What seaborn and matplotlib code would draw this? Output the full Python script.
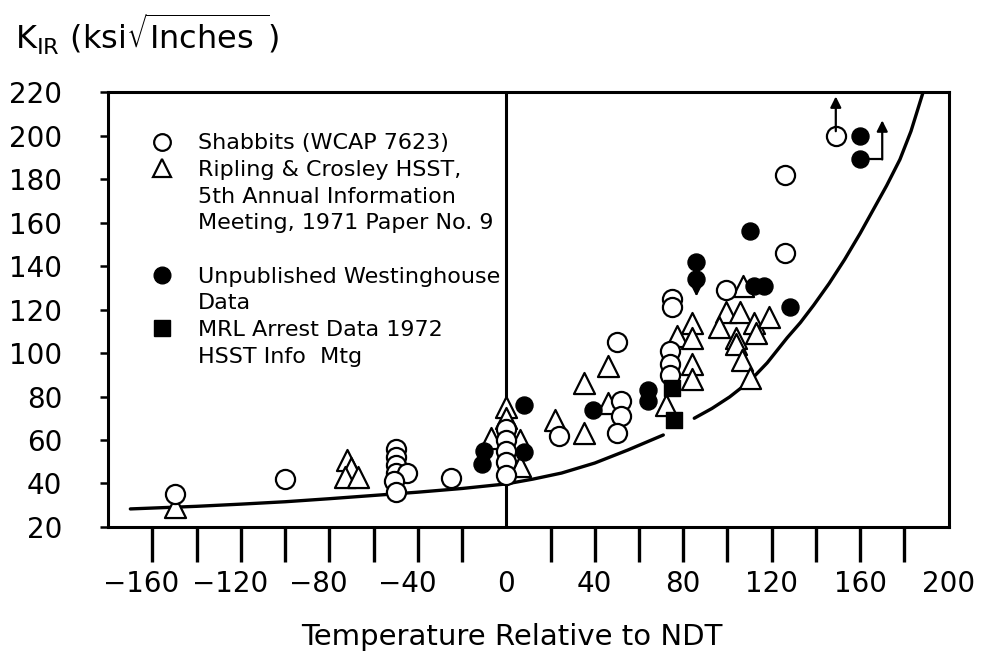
import matplotlib
matplotlib.use("Agg")
import matplotlib.pyplot as plt
import seaborn as sns
import pandas as pd
from matplotlib.lines import Line2D
from matplotlib.transforms import ScaledTranslation

# ---------------- data ----------------
shab_x = [-150, -100, -50, -50, -50, -50, -45, -51, -50, -25, 0, 0, 0, 0, 0, 24, 50, 52, 52, 50,
          75, 75, 74, 74, 74, 99.5, 126, 126, 149]
shab_y = [35, 42, 56, 52, 48.5, 45, 45, 41, 36, 42.5, 65, 60, 55, 50, 44, 62, 105, 78, 71, 63,
          125, 121, 101, 95, 90, 129, 146, 182, 200]

rip_x = [-150, -72, -70, -73, -67, 0, 0, -7, 6, 6, 22, 35, 35, 46, 46, 84, 77, 84, 84, 84, 72,
         99.5, 105.5, 96, 112, 119, 113, 104, 104, 106.5, 110, 107]
rip_y = [29, 51, 47, 43, 43, 75, 70, 61, 60, 48, 69, 86, 63, 94, 77, 114, 108, 107, 95, 88, 76,
         119, 119, 112, 114, 116.5, 109, 107, 104, 97, 88.5, 131]

west_x = [-10, -11, 8, 8, 39, 64, 64, 86, 86, 110, 112, 116.5, 128.5, 160, 160]
west_y = [55, 49, 54.5, 76, 74, 83, 78, 142, 134, 156, 131, 131, 121, 200, 189]

mrl_x = [75, 76]
mrl_y = [84, 69]

# reference curve, read in two pieces (gap near the MRL points)
curve1_x = [-170, -160, -140, -120, -100, -80, -60, -40, -20, 0, 12, 25, 40, 55, 71]
curve1_y = [28.3, 28.7, 29.5, 30.5, 31.6, 33, 34.5, 36, 37.7, 39.8, 42, 44.8, 49.4, 55.4, 62.3]
curve2_x = [85, 93, 101, 110, 118, 127, 133, 139, 146, 153, 160, 166, 172, 178, 183, 188.5]
curve2_y = [70, 74.5, 79.8, 87, 95.5, 107, 114, 122, 132, 143, 155, 166, 177, 189, 202, 220]

# arrows (lower-bound indications)
arrow_up = [(149, 200, 218)]                 # x, y_start, y_tip
arrow_bent = [(160, 189, 170, 207)]          # x0, y0, x_corner, y_tip
arrow_down = [(86, 134, 126)]

legend_lines = ["Shabbits (WCAP 7623)", "Ripling & Crosley HSST,", "5th Annual Information",
                "Meeting, 1971 Paper No. 9", " ", "Unpublished Westinghouse", "Data",
                "MRL Arrest Data 1972", "HSST Info  Mtg"]

xticks_labeled = [-160, -120, -80, -40, 0, 40, 80, 120, 160, 200]
xticks_minor = [-160, -140, -120, -100, -80, -60, -40, -20, 20, 40, 60, 80, 100, 120, 140, 160, 180]
yticks = [20, 40, 60, 80, 100, 120, 140, 160, 180, 200, 220]

# ---------------- style ----------------
sns.set_style("ticks")
plt.rcParams["font.family"] = ["DejaVu Sans"]
plt.rcParams["mathtext.default"] = "regular"
plt.rcParams["text.color"] = "black"
plt.rcParams["xtick.color"] = "black"
plt.rcParams["ytick.color"] = "black"
plt.rcParams["axes.labelcolor"] = "black"

fig, ax = plt.subplots(figsize=(9.84, 6.53), dpi=100)
fig.subplots_adjust(left=0.110, right=0.964, bottom=0.193, top=0.859)

ax.set_xlim(-180, 200)
ax.set_ylim(20, 220)

# vertical line at 0
ax.axvline(0, color="black", lw=2.2, zorder=1)

# curve
sns.lineplot(x=curve1_x, y=curve1_y, ax=ax, color="black", lw=2.4, zorder=2, estimator=None, sort=False)
sns.lineplot(x=curve2_x, y=curve2_y, ax=ax, color="black", lw=2.4, zorder=2, estimator=None, sort=False)

# markers
sns.scatterplot(x=rip_x, y=rip_y, ax=ax, marker="^", s=230, facecolor="white",
                edgecolor="black", linewidth=1.6, zorder=3)
sns.scatterplot(x=shab_x, y=shab_y, ax=ax, marker="o", s=190, facecolor="white",
                edgecolor="black", linewidth=1.6, zorder=4)
sns.scatterplot(x=west_x, y=west_y, ax=ax, marker="o", s=150, facecolor="black",
                edgecolor="black", linewidth=1.0, zorder=5)
sns.scatterplot(x=mrl_x, y=mrl_y, ax=ax, marker="s", s=130, facecolor="black",
                edgecolor="black", linewidth=1.0, zorder=5)

arrowprops = dict(arrowstyle="-|>", color="black", lw=1.6, mutation_scale=16, shrinkA=0, shrinkB=0)
for x, y0, y1 in arrow_up:
    ax.annotate("", xy=(x, y1), xytext=(x, y0 + 2), arrowprops=arrowprops, zorder=6)
for x0, y0, xc, y1 in arrow_bent:
    ax.plot([x0, xc], [y0, y0], color="black", lw=1.6, zorder=6)
    ax.annotate("", xy=(xc, y1), xytext=(xc, y0), arrowprops=arrowprops, zorder=6)
for x, y0, y1 in arrow_down:
    ax.annotate("", xy=(x, y1), xytext=(x, y0), arrowprops=arrowprops, zorder=6)

# axes styling
for sp in ax.spines.values():
    sp.set_linewidth(2.2)
    sp.set_color("black")

ax.set_yticks(yticks)
ax.set_yticklabels([str(v) for v in yticks])
ax.tick_params(axis="y", direction="out", length=6, width=1.8, pad=27, labelsize=20)

ax.xaxis.remove_overlapping_locs = False
ax.set_xticks(xticks_labeled)
ax.set_xticklabels([str(v).replace("-", "\u2212") for v in xticks_labeled])
ax.set_xticks(xticks_minor, minor=True)
ax.tick_params(axis="x", which="major", length=0, pad=31, labelsize=20)
ax.tick_params(axis="x", which="minor", direction="out", length=25, width=2.4)

offset = ScaledTranslation(-11 / 100, 0, fig.dpi_scale_trans)
for lab in ax.get_xticklabels():
    if lab.get_text().startswith("\u2212"):
        lab.set_transform(lab.get_transform() + offset)

ax.set_xlabel("Temperature Relative to NDT", fontsize=21)
ax.xaxis.set_label_coords(0.48, -0.253)
ax.xaxis.label.set_va("center")
ax.set_ylabel("")

fig.text(0.015, 0.947, r"K$_{IR}$ (ksi$\sqrt{Inches\ }$)", fontsize=23, va="center", ha="left")

# legend
blank = Line2D([], [], linestyle="none")
handles = [
    Line2D([], [], linestyle="none", marker="o", markersize=12, markerfacecolor="white",
           markeredgecolor="black", markeredgewidth=1.6),
    Line2D([], [], linestyle="none", marker="^", markersize=13, markerfacecolor="white",
           markeredgecolor="black", markeredgewidth=1.6),
    blank, blank, blank,
    Line2D([], [], linestyle="none", marker="o", markersize=12, markerfacecolor="black",
           markeredgecolor="black"),
    blank,
    Line2D([], [], linestyle="none", marker="s", markersize=11, markerfacecolor="black",
           markeredgecolor="black"),
    blank,
]
ax.legend(handles, legend_lines, loc="upper left", bbox_to_anchor=(0.051, 0.905),
          frameon=False, fontsize=16, handlelength=1.0, handletextpad=1.1,
          labelspacing=0.3, borderpad=0, borderaxespad=0)

fig.savefig("out.png", dpi=100)
